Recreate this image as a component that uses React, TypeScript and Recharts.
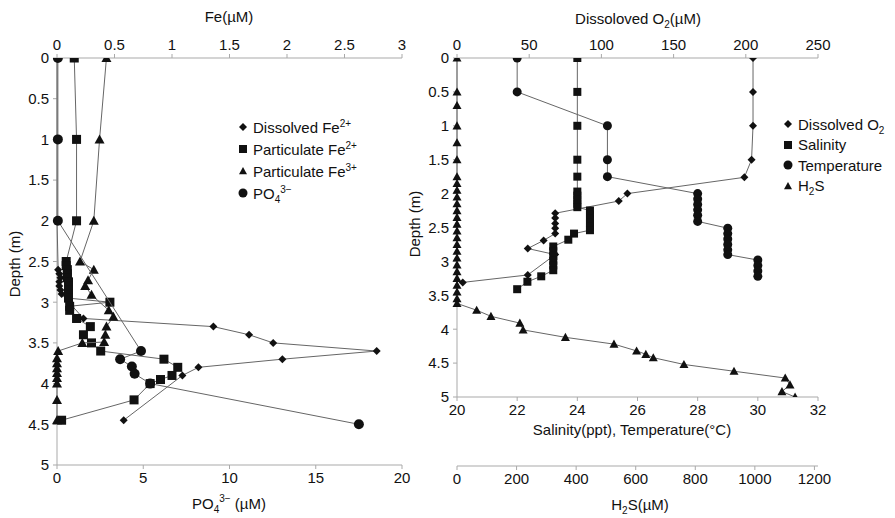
import { ScatterChart, Scatter, XAxis, YAxis, Legend, Label } from 'recharts';

const FONT = '"Liberation Sans", Arial, Helvetica, sans-serif';
const INK = '#111';
const AXIS = '#a9a9a9';
const LINE = '#666';

// ---------- left panel: Fe species and phosphate ----------
const depthTicks = [0, 0.5, 1, 1.5, 2, 2.5, 3, 3.5, 4, 4.5, 5];
const feTicks = [0, 0.5, 1, 1.5, 2, 2.5, 3];
const po4Ticks = [0, 5, 10, 15, 20];

const dFe2Depth = [0, 1, 2, 2.6, 2.65, 2.7, 2.75, 2.8, 2.85, 2.9, 3.2, 3.3, 3.4, 3.5, 3.6, 3.7, 3.8, 3.9, 4.45];
const dFe2 = [0, 0, 0, 0.01, 0.02, 0.03, 0.02, 0.02, 0.03, 0.04, 0.23, 1.36, 1.67, 1.88, 2.78, 1.96, 1.23, 1.09, 0.58];

const pFe2Depth = [0, 1, 2, 2.5, 2.55, 2.6, 2.65, 2.7, 2.75, 2.8, 2.85, 2.9, 2.95, 3.0, 3.05, 3.1, 3.2, 3.3, 3.4, 3.5, 3.6, 3.7, 3.8, 3.9, 3.95, 4.0, 4.2, 4.45];
const pFe2 = [0.15, 0.17, 0.17, 0.08, 0.08, 0.09, 0.09, 0.09, 0.1, 0.1, 0.1, 0.1, 0.1, 0.46, 0.11, 0.11, 0.17, 0.29, 0.23, 0.3, 0.38, 0.93, 1.05, 1.0, 0.9, 0.81, 0.67, 0.04];

const pFe3Depth = [0, 1, 2, 2.5, 2.6, 2.73, 2.8, 2.91, 3.1, 3.18, 3.3, 3.4, 3.49, 3.5, 3.6, 3.69, 3.75, 3.81, 3.87, 3.93, 4.0, 4.2, 4.45];
const pFe3 = [0.43, 0.37, 0.32, 0.2, 0.32, 0.27, 0.245, 0.3, 0.45, 0.49, 0.43, 0.42, 0.41, 0.22, 0.01, 0, 0, 0, 0, 0, 0, 0, 0];

const po4Depth = [0, 1, 2, 3.6, 3.7, 3.79, 3.88, 4.0, 4.5];
const po4 = [0.05, 0.05, 0.05, 4.87, 3.66, 4.34, 4.5, 5.4, 17.5];

// ---------- right panel: O2, salinity, temperature, H2S ----------
const o2Ticks = [0, 50, 100, 150, 200, 250];
const stTicks = [20, 22, 24, 26, 28, 30, 32];
const h2sTicks = [0, 200, 400, 600, 800, 1000, 1200];

const o2Depth = [0, 0.5, 1, 1.5, 1.76, 2.0, 2.11, 2.29, 2.36, 2.44, 2.51, 2.59, 2.69, 2.81, 2.9, 3.2, 3.31];
const o2 = [205, 205, 205, 204, 199, 118, 112, 68, 68, 68, 68, 68, 60, 49, 68, 49, 4];

const salDepth = [0, 0.5, 1, 1.5, 1.75, 1.97, 2.03, 2.09, 2.15, 2.2, 2.25, 2.31, 2.37, 2.43, 2.49, 2.54, 2.59, 2.68, 2.78, 2.85, 2.92, 2.99, 3.06, 3.13, 3.22, 3.3, 3.41];
const sal = [24, 24, 24, 24, 24, 24, 24, 24, 24, 24, 24.42, 24.42, 24.42, 24.42, 24.42, 24.42, 23.89, 23.7, 23.2, 23.2, 23.2, 23.2, 23.2, 23.2, 22.8, 22.34, 22.0];

const tempDepth = [0, 0.5, 1, 1.5, 1.75, 2.0, 2.08, 2.16, 2.24, 2.32, 2.41, 2.51, 2.59, 2.67, 2.75, 2.83, 2.9, 2.98, 3.06, 3.14, 3.22];
const temp = [22, 22, 25, 25, 25, 28, 28, 28, 28, 28, 28, 29, 29, 29, 29, 29, 29, 30, 30, 30, 30];

const h2sDepth = [0, 0.5, 0.7, 1.0, 1.25, 1.5, 1.75, 1.85, 1.95, 2.05, 2.15, 2.25, 2.35, 2.45, 2.55, 2.65, 2.75, 2.85, 2.95, 3.05, 3.15, 3.25, 3.35, 3.45, 3.55, 3.62, 3.72, 3.81, 3.91, 4.01, 4.12, 4.22, 4.32, 4.37, 4.42, 4.52, 4.62, 4.72, 4.82, 4.92, 5.0];
const h2s = [0, 0, 0, 0, 0, 0, 0, 0, 0, 0, 0, 0, 0, 0, 0, 0, 0, 0, 0, 0, 0, 0, 0, 0, 0, 0, 66, 114, 211, 222, 364, 527, 603, 634, 659, 762, 930, 1102, 1118, 1091, 1135];

const pts = (depth: number[], vals: number[]) => depth.map((y, i) => ({ x: vals[i], y }));

type Kind = 'diamond' | 'square' | 'triangle' | 'circle';

function Mark({ cx, cy, kind, size }: { cx: number; cy: number; kind: Kind; size: number }) {
  const h = size / 2;
  if (kind === 'diamond')
    return <polygon points={`${cx},${cy - h} ${cx + h},${cy} ${cx},${cy + h} ${cx - h},${cy}`} fill={INK} />;
  if (kind === 'square') return <rect x={cx - h} y={cy - h} width={size} height={size} fill={INK} />;
  if (kind === 'triangle')
    return <polygon points={`${cx},${cy - h} ${cx + h},${cy + h * 0.8} ${cx - h},${cy + h * 0.8}`} fill={INK} />;
  return <circle cx={cx} cy={cy} r={h} fill={INK} />;
}

const shape = (kind: Kind, size: number) => (p: any) => <Mark cx={p.cx} cy={p.cy} kind={kind} size={size} />;

type Part = { t: string; sub?: boolean; sup?: boolean };

// axis title with sub/superscripts; x,y is the baseline centre
function Title({ x, y, parts, vertical }: { x: number; y: number; parts: Part[]; vertical?: boolean }) {
  let cur = 0;
  return (
    <text
      x={x}
      y={y}
      textAnchor="middle"
      fontSize={15}
      fill={INK}
      transform={vertical ? `rotate(-90 ${x} ${y})` : undefined}
    >
      {parts.map((p, i) => {
        const target = p.sub ? 4 : p.sup ? -7 : 0;
        const dy = target - cur;
        cur = target;
        return (
          <tspan key={i} dy={dy} fontSize={p.sub || p.sup ? 10 : 15}>
            {p.t}
          </tspan>
        );
      })}
    </text>
  );
}

type Item = { kind: Kind; label: React.ReactNode };

const small = { fontSize: 10, position: 'relative' as const };

const leftItems: Item[] = [
  { kind: 'diamond', label: <>Dissolved Fe<span style={{ ...small, top: -6 }}>2+</span></> },
  { kind: 'square', label: <>Particulate Fe<span style={{ ...small, top: -6 }}>2+</span></> },
  { kind: 'triangle', label: <>Particulate Fe<span style={{ ...small, top: -6 }}>3+</span></> },
  { kind: 'circle', label: <>PO<span style={{ ...small, top: 4 }}>4</span><span style={{ ...small, top: -6 }}>3−</span></> },
];

const rightItems: Item[] = [
  { kind: 'diamond', label: <>Dissolved O<span style={{ ...small, top: 4 }}>2</span></> },
  { kind: 'square', label: <>Salinity</> },
  { kind: 'circle', label: <>Temperature</> },
  { kind: 'triangle', label: <>H<span style={{ ...small, top: 4 }}>2</span>S</> },
];

function LegendBox({ items, rowH }: { items: Item[]; rowH: number }) {
  return (
    <div style={{ fontFamily: FONT, fontSize: 15, color: INK }}>
      {items.map((it, i) => (
        <div key={i} style={{ display: 'flex', alignItems: 'center', height: rowH, whiteSpace: 'nowrap' }}>
          <svg width={10} height={10} style={{ marginRight: 5, flex: 'none' }}>
            <Mark cx={5} cy={5} kind={it.kind} size={it.kind === 'circle' ? 9 : 8} />
          </svg>
          <span>{it.label}</span>
        </div>
      ))}
    </div>
  );
}

const tickStyle = { fontSize: 15, fill: INK };
const axisLine = { stroke: AXIS };

function LeftPanel() {
  return (
    <ScatterChart width={440} height={518} margin={{ top: 0, right: 38, bottom: 0, left: 0 }}>
      <XAxis
        xAxisId="fe"
        dataKey="x"
        type="number"
        orientation="top"
        domain={[0, 3]}
        ticks={feTicks}
        height={58}
        tick={tickStyle}
        axisLine={axisLine}
        tickLine={axisLine}
        tickSize={4}
        tickMargin={4}
      >
        <Label content={() => <Title x={229} y={22} parts={[{ t: 'Fe(µM)' }]} />} />
      </XAxis>
      <XAxis
        xAxisId="po4"
        dataKey="x"
        type="number"
        orientation="bottom"
        domain={[0, 20]}
        ticks={po4Ticks}
        height={53}
        tick={tickStyle}
        axisLine={axisLine}
        tickLine={axisLine}
        tickSize={4}
        tickMargin={3}
      >
        <Label
          content={() => (
            <Title x={229} y={509} parts={[{ t: 'PO' }, { t: '4', sub: true }, { t: '3−', sup: true }, { t: ' (µM)' }]} />
          )}
        />
      </XAxis>
      <YAxis
        dataKey="y"
        type="number"
        domain={[0, 5]}
        ticks={depthTicks}
        reversed
        allowDataOverflow
        width={57}
        tick={tickStyle}
        axisLine={axisLine}
        tickLine={axisLine}
        tickSize={4}
        tickMargin={4}
      >
        <Label content={() => <Title x={20} y={264} vertical parts={[{ t: 'Depth (m)' }]} />} />
      </YAxis>
      <Legend
        layout="vertical"
        align="center"
        verticalAlign="middle"
        wrapperStyle={{ left: 238, top: 116, width: 'auto' }}
        content={() => <LegendBox items={leftItems} rowH={22} />}
      />
      <Scatter name="Dissolved Fe2+" xAxisId="fe" data={pts(dFe2Depth, dFe2)} shape={shape('diamond', 8)} line={{ stroke: LINE, strokeWidth: 1 }} isAnimationActive={false} />
      <Scatter name="Particulate Fe2+" xAxisId="fe" data={pts(pFe2Depth, pFe2)} shape={shape('square', 9)} line={{ stroke: LINE, strokeWidth: 1 }} isAnimationActive={false} />
      <Scatter name="Particulate Fe3+" xAxisId="fe" data={pts(pFe3Depth, pFe3)} shape={shape('triangle', 10)} line={{ stroke: LINE, strokeWidth: 1 }} isAnimationActive={false} />
      <Scatter name="PO4" xAxisId="po4" data={pts(po4Depth, po4)} shape={shape('circle', 10)} line={{ stroke: LINE, strokeWidth: 1 }} isAnimationActive={false} />
    </ScatterChart>
  );
}

function RightPanel() {
  return (
    <ScatterChart width={495} height={518} margin={{ top: 0, right: 77, bottom: 0, left: 0 }}>
      <XAxis
        xAxisId="o2"
        dataKey="x"
        type="number"
        orientation="top"
        domain={[0, 250]}
        ticks={o2Ticks}
        height={58}
        tick={tickStyle}
        axisLine={axisLine}
        tickLine={axisLine}
        tickSize={4}
        tickMargin={4}
      >
        <Label
          content={() => (
            <Title x={238} y={24} parts={[{ t: 'Dissoloved O' }, { t: '2', sub: true }, { t: '(µM)' }]} />
          )}
        />
      </XAxis>
      {/* H2S axis sits below the salinity/temperature axis */}
      <XAxis
        xAxisId="b2"
        dataKey="x"
        type="number"
        orientation="bottom"
        domain={[0, 1212]}
        ticks={h2sTicks}
        height={52}
        tick={tickStyle}
        axisLine={axisLine}
        tickLine={axisLine}
        tickSize={4}
        tickMargin={3}
      >
        <Label
          content={() => <Title x={240} y={510} parts={[{ t: 'H' }, { t: '2', sub: true }, { t: 'S(µM)' }]} />}
        />
      </XAxis>
      <XAxis
        xAxisId="b1"
        dataKey="x"
        type="number"
        orientation="bottom"
        domain={[20, 32]}
        ticks={stTicks}
        height={69}
        tick={tickStyle}
        axisLine={axisLine}
        tickLine={axisLine}
        tickSize={4}
        tickMargin={3}
      >
        <Label content={() => <Title x={232} y={435} parts={[{ t: 'Salinity(ppt), Temperature(°C)' }]} />} />
      </XAxis>
      <YAxis
        dataKey="y"
        type="number"
        domain={[0, 5]}
        ticks={depthTicks}
        reversed
        allowDataOverflow
        width={57}
        tick={tickStyle}
        axisLine={axisLine}
        tickLine={axisLine}
        tickSize={4}
        tickMargin={4}
      >
        <Label content={() => <Title x={20} y={224} vertical parts={[{ t: 'Depth (m)' }]} />} />
      </YAxis>
      <Legend
        layout="vertical"
        align="center"
        verticalAlign="middle"
        wrapperStyle={{ left: 383, top: 114, width: 'auto' }}
        content={() => <LegendBox items={rightItems} rowH={20.5} />}
      />
      <Scatter name="Dissolved O2" xAxisId="o2" data={pts(o2Depth, o2)} shape={shape('diamond', 8)} line={{ stroke: LINE, strokeWidth: 1 }} isAnimationActive={false} />
      <Scatter name="Salinity" xAxisId="b1" data={pts(salDepth, sal)} shape={shape('square', 8)} line={{ stroke: LINE, strokeWidth: 1 }} isAnimationActive={false} />
      <Scatter name="Temperature" xAxisId="b1" data={pts(tempDepth, temp)} shape={shape('circle', 9)} line={{ stroke: LINE, strokeWidth: 1 }} isAnimationActive={false} />
      <Scatter name="H2S" xAxisId="b2" data={pts(h2sDepth, h2s)} shape={shape('triangle', 9)} line={{ stroke: LINE, strokeWidth: 1 }} isAnimationActive={false} />
    </ScatterChart>
  );
}

export default function App() {
  return (
    <div
      style={{
        position: 'absolute',
        left: 0,
        top: 0,
        width: 895,
        height: 518,
        overflow: 'hidden',
        background: '#fff',
        fontFamily: FONT,
      }}
    >
      <div style={{ position: 'absolute', left: 0, top: 0 }}>
        <LeftPanel />
      </div>
      <div style={{ position: 'absolute', left: 400, top: 0 }}>
        <RightPanel />
      </div>
    </div>
  );
}
